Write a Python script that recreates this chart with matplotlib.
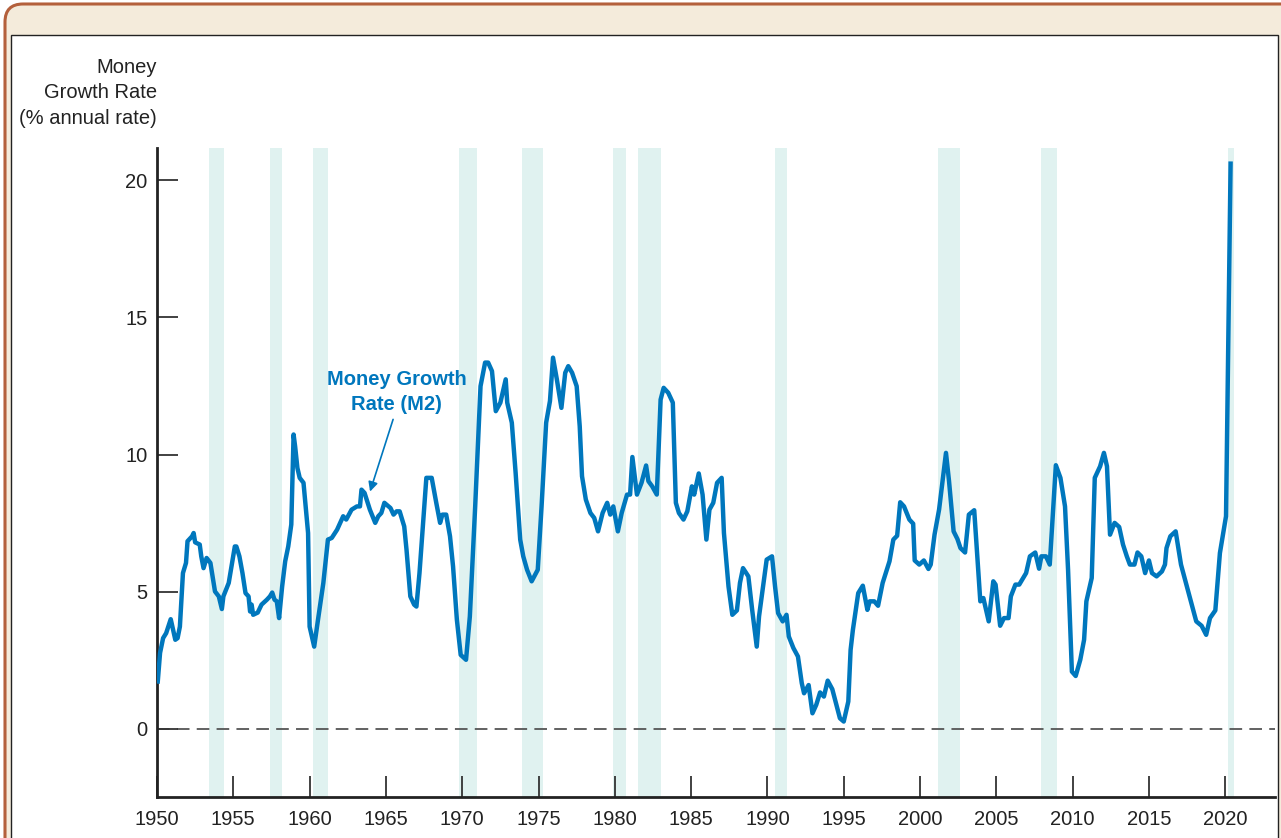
import matplotlib
matplotlib.use('Agg')
import matplotlib.pyplot as plt
from matplotlib.patches import FancyBboxPatch, Rectangle

plt.rcParams['font.family'] = ['Liberation Sans', 'DejaVu Sans']

# M2 money growth rate (% annual rate)
years = [1950.05, 1950.2, 1950.4, 1950.6, 1950.9, 1951.2, 1951.35, 1951.5, 1951.7, 1951.9,
         1952.0, 1952.3, 1952.4, 1952.5, 1952.8, 1952.9, 1953.05, 1953.25, 1953.5, 1953.8,
         1954.05, 1954.25, 1954.35, 1954.7, 1954.9, 1955.1, 1955.2, 1955.4, 1955.6, 1955.8,
         1956.0, 1956.1, 1956.2, 1956.3, 1956.6, 1956.85, 1957.2, 1957.4, 1957.55, 1957.7,
         1957.85, 1958.0, 1958.2, 1958.4, 1958.6, 1958.8, 1958.95, 1959.05, 1959.2, 1959.35,
         1959.6, 1959.9, 1960.0, 1960.3, 1960.55, 1960.9, 1961.2, 1961.45, 1961.8, 1962.2,
         1962.4, 1962.75, 1963.1, 1963.3, 1963.4, 1963.6, 1963.95, 1964.3, 1964.5, 1964.7,
         1964.9, 1965.3, 1965.5, 1965.7, 1965.9, 1966.2, 1966.35, 1966.6, 1966.85, 1967.0,
         1967.2, 1967.65, 1968.0, 1968.3, 1968.55, 1968.7, 1968.95, 1969.2, 1969.4, 1969.65,
         1969.9, 1970.25, 1970.5, 1970.85, 1971.2, 1971.5, 1971.7, 1971.95, 1972.2, 1972.5,
         1972.85, 1972.95, 1973.25, 1973.5, 1973.8, 1974.0, 1974.25, 1974.55, 1974.95, 1975.2,
         1975.5, 1975.75, 1975.95, 1976.2, 1976.5, 1976.75, 1976.95, 1977.2, 1977.5, 1977.7,
         1977.85, 1978.1, 1978.4, 1978.65, 1978.9, 1979.2, 1979.5, 1979.7, 1979.9, 1980.2,
         1980.45, 1980.8, 1981.0, 1981.15, 1981.45, 1981.75, 1982.05, 1982.2, 1982.45, 1982.75,
         1983.0, 1983.2, 1983.5, 1983.8, 1984.0, 1984.2, 1984.5, 1984.75, 1985.05, 1985.2,
         1985.5, 1985.75, 1986.0, 1986.2, 1986.45, 1986.7, 1987.0, 1987.15, 1987.45, 1987.7,
         1988.0, 1988.2, 1988.4, 1988.75, 1989.0, 1989.3, 1989.45, 1989.95, 1990.3, 1990.5,
         1990.7, 1991.0, 1991.25, 1991.4, 1991.7, 1992.0, 1992.25, 1992.4, 1992.7, 1992.95,
         1993.2, 1993.45, 1993.7, 1993.95, 1994.25, 1994.55, 1994.75, 1995.0, 1995.3, 1995.45,
         1995.6, 1995.95, 1996.25, 1996.55, 1996.7, 1997.0, 1997.25, 1997.55, 1998.0, 1998.25,
         1998.5, 1998.7, 1998.95, 1999.3, 1999.55, 1999.65, 1999.95, 2000.25, 2000.55, 2000.7,
         2000.95, 2001.25, 2001.7, 2001.9, 2002.2, 2002.45, 2002.65, 2002.95, 2003.2, 2003.55,
         2003.95, 2004.15, 2004.5, 2004.8, 2004.95, 2005.25, 2005.5, 2005.8, 2005.95, 2006.25,
         2006.5, 2006.95, 2007.2, 2007.55, 2007.8, 2007.95, 2008.25, 2008.5, 2008.9, 2009.2,
         2009.5, 2009.7, 2009.95, 2010.2, 2010.5, 2010.75, 2010.9, 2011.25, 2011.45, 2011.8,
         2012.05, 2012.25, 2012.45, 2012.75, 2013.05, 2013.3, 2013.55, 2013.75, 2014.05, 2014.25,
         2014.5, 2014.75, 2015.0, 2015.2, 2015.5, 2015.85, 2016.05, 2016.15, 2016.4, 2016.75,
         2017.1, 2018.1, 2018.45, 2018.75, 2019.0, 2019.35, 2019.65, 2020.05, 2020.35]
m2 = [1.73, 2.77, 3.31, 3.49, 4.0, 3.25, 3.31, 3.73, 5.68, 6.05,
      6.84, 7.02, 7.14, 6.8, 6.72, 6.29, 5.86, 6.23, 6.05, 5.01,
      4.83, 4.37, 4.83, 5.32, 5.99, 6.65, 6.65, 6.29, 5.68, 4.95,
      4.83, 4.28, 4.53, 4.16, 4.24, 4.53, 4.71, 4.83, 4.97, 4.71,
      4.65, 4.04, 5.19, 6.11, 6.65, 7.45, 10.73, 10.3, 9.51, 9.15,
      8.97, 7.14, 3.73, 3.0, 3.98, 5.32, 6.9, 6.96, 7.26, 7.75,
      7.63, 7.99, 8.11, 8.11, 8.72, 8.6, 7.99, 7.51, 7.75, 7.87,
      8.24, 8.05, 7.81, 7.93, 7.93, 7.38, 6.53, 4.83, 4.53, 4.46,
      5.68, 9.15, 9.15, 8.24, 7.51, 7.81, 7.81, 7.02, 5.92, 3.98,
      2.7, 2.52, 4.1, 8.11, 12.49, 13.35, 13.35, 13.04, 11.58, 11.89,
      12.74, 11.89, 11.16, 9.33, 6.9, 6.29, 5.8, 5.38, 5.8, 8.11,
      11.16, 11.95, 13.53, 12.74, 11.7, 12.98, 13.22, 12.98, 12.49, 11.03,
      9.21, 8.36, 7.87, 7.69, 7.2, 7.87, 8.24, 7.81, 8.11, 7.2,
      7.87, 8.54, 8.54, 9.91, 8.54, 8.97, 9.6, 9.03, 8.84, 8.54,
      12.0, 12.43, 12.25, 11.89, 8.24, 7.87, 7.63, 7.93, 8.84, 8.54,
      9.31, 8.54, 6.9, 7.99, 8.24, 8.97, 9.15, 7.14, 5.19, 4.16,
      4.32, 5.32, 5.86, 5.56, 4.34, 3.0, 4.1, 6.17, 6.29, 5.19,
      4.22, 3.92, 4.16, 3.37, 2.95, 2.64, 1.67, 1.3, 1.6, 0.57,
      0.88, 1.33, 1.18, 1.76, 1.45, 0.81, 0.39, 0.27, 1.0, 2.88,
      3.61, 4.95, 5.22, 4.34, 4.65, 4.65, 4.49, 5.32, 6.11, 6.9,
      7.04, 8.26, 8.11, 7.63, 7.48, 6.14, 5.99, 6.14, 5.83, 5.99,
      7.08, 8.0, 10.06, 9.03, 7.2, 6.92, 6.59, 6.43, 7.81, 7.97,
      4.65, 4.77, 3.92, 5.38, 5.26, 3.76, 4.04, 4.04, 4.83, 5.26,
      5.26, 5.68, 6.29, 6.43, 5.84, 6.29, 6.29, 5.99, 9.61, 9.15,
      8.11, 5.8, 2.09, 1.93, 2.52, 3.25, 4.65, 5.5, 9.15, 9.57,
      10.06, 9.57, 7.08, 7.51, 7.36, 6.72, 6.29, 5.99, 5.99, 6.43,
      6.29, 5.68, 6.14, 5.68, 5.56, 5.74, 5.99, 6.59, 7.02, 7.2,
      5.99, 3.92, 3.76, 3.43, 4.04, 4.32, 6.41, 7.75, 20.6]

# recessions (shaded)
rec_start = [1953.4, 1957.4, 1960.2, 1969.8, 1973.9, 1979.9, 1981.5, 1990.5, 2001.2, 2007.9, 2020.2]
rec_end = [1954.4, 1958.2, 1961.2, 1971.0, 1975.3, 1980.7, 1983.0, 1991.3, 2002.6, 2009.0, 2020.6]

xticks = [1950, 1955, 1960, 1965, 1970, 1975, 1980, 1985, 1990, 1995, 2000, 2005, 2010, 2015, 2020]
yticks = [0, 5, 10, 15, 20]

line_color = '#0077bd'
band_color = '#e0f2f0'

fig = plt.figure(figsize=(12.81, 8.38), dpi=100)

# background frame (pixel coordinates)
bg = fig.add_axes([0, 0, 1, 1])
bg.set_xlim(0, 1281)
bg.set_ylim(838, 0)
bg.axis('off')
bg.add_patch(FancyBboxPatch((5, 4), 1320, 900, boxstyle='round,pad=0,rounding_size=18',
                            facecolor='#f4ebdb', edgecolor='#b4603c', linewidth=2.2))
bg.add_patch(Rectangle((11, 35), 1267, 900, facecolor='white', edgecolor='#222222', linewidth=1.0))
bg.text(157, 58, 'Money\nGrowth Rate\n(% annual rate)', ha='right', va='top',
        fontsize=14.5, color='#222222', linespacing=1.42)

# main axes
ax = fig.add_axes([157 / 1281, 1 - 797 / 838, (1275 - 157) / 1281, (797 - 148) / 838])
ax.set_facecolor('none')
ax.set_xlim(1950, 2023.26)
ax.set_ylim(-2.48, 21.17)

for s, e in zip(rec_start, rec_end):
    ax.axvspan(s, e, color=band_color, lw=0, zorder=0)

ax.axhline(0, color='#555555', lw=1.3, dashes=(7, 4), zorder=1)
ax.plot(years, m2, color=line_color, lw=3.2, solid_joinstyle='round', zorder=3)

ax.text(1965.7, 12.28, 'Money Growth\nRate (M2)', ha='center', va='center',
        fontsize=14.5, fontweight='bold', color=line_color, linespacing=1.4)
ax.annotate('', xy=(1963.96, 8.65), xytext=(1965.47, 11.28),
            arrowprops=dict(arrowstyle='-|>', color=line_color, lw=1.2,
                            mutation_scale=14, shrinkA=0, shrinkB=0))

for side in ['top', 'right']:
    ax.spines[side].set_visible(False)
for side in ['left', 'bottom']:
    ax.spines[side].set_linewidth(2)
    ax.spines[side].set_color('#222222')

ax.set_xticks(xticks)
ax.set_yticks(yticks)
ax.tick_params(direction='in', length=15, width=1.3, color='#333333',
               labelsize=14.5, labelcolor='#222222')
ax.tick_params(axis='x', pad=9)
ax.tick_params(axis='y', pad=7)

fig.savefig('out.png', dpi=100)
